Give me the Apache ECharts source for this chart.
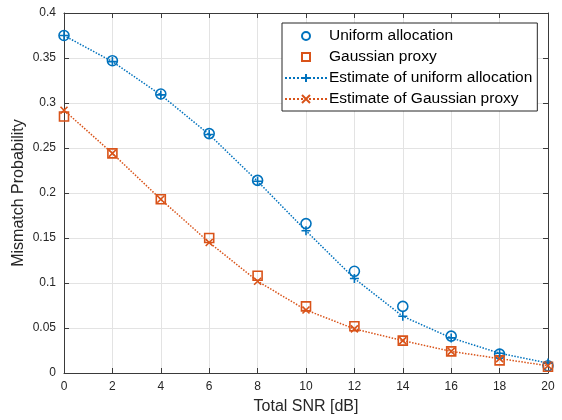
<!DOCTYPE html>
<html>
<head>
<meta charset="utf-8">
<script src="https://cdn.jsdelivr.net/npm/echarts@6/dist/echarts.min.js"></script>
<style>html,body{margin:0;padding:0;background:#fff}#c{width:562px;height:420px}</style>
</head>
<body>
<div id="c"></div>
<script>
var snr = [0, 2, 4, 6, 8, 10, 12, 14, 16, 18, 20];
var uniformAlloc = [0.375, 0.347, 0.310, 0.266, 0.214, 0.166, 0.113, 0.074, 0.041, 0.021, 0.008];
var gaussianProxy = [0.285, 0.244, 0.193, 0.150, 0.108, 0.074, 0.052, 0.036, 0.024, 0.014, 0.007];
var estUniform = [0.375, 0.346, 0.309, 0.265, 0.213, 0.158, 0.105, 0.063, 0.039, 0.022, 0.011];
var estGaussian = [0.292, 0.244, 0.193, 0.145, 0.102, 0.070, 0.049, 0.036, 0.024, 0.016, 0.008];
var seriesNames = ['Uniform allocation', 'Gaussian proxy', 'Estimate of uniform allocation', 'Estimate of Gaussian proxy'];
var xName = 'Total SNR [dB]';
var yName = 'Mismatch Probability';

function pairs(ys) { return snr.map(function (x, i) { return [x, ys[i]]; }); }

var BLUE = '#0072BD', ORANGE = '#D95319', AX = '#262626';
var FONT = '"Liberation Sans", Arial, Helvetica, sans-serif';
var PLUS = 'path://M0,-1L0,1M-1,0L1,0';
var CROSS = 'path://M-1,-1L1,1M-1,1L1,-1';

var chart = echarts.init(document.getElementById('c'), null, {renderer: 'canvas'});
var axisCommon = {
  type: 'value',
  axisLine: {show: true, onZero: false, lineStyle: {color: '#3a3a3a', width: 1}},
  axisTick: {show: true, inside: true, length: 5, lineStyle: {color: '#3a3a3a'}},
  axisLabel: {color: AX, fontSize: 12, fontFamily: FONT},
  nameTextStyle: {color: AX, fontSize: 16, fontFamily: FONT}
};
chart.setOption({
  animation: false,
  backgroundColor: '#fff',
  textStyle: {fontFamily: FONT},
  grid: {left: 64, right: 14, top: 13, bottom: 47, containLabel: false},
  legend: {
    data: seriesNames,
    orient: 'vertical',
    left: 282, top: 23,
    padding: [5, 5, 4, 2],
    itemWidth: 42, itemHeight: 10, itemGap: 5,
    backgroundColor: '#fff',
    borderColor: '#262626', borderWidth: 1,
    textStyle: {color: '#000', fontSize: 15.5, fontFamily: FONT, padding: [0, 0, 0, -3]}
  },
  xAxis: [
    Object.assign({}, axisCommon, {
      min: 0, max: 20, interval: 2, position: 'bottom',
      name: xName, nameLocation: 'middle', nameGap: 26, nameMoveOverlap: false,
      splitLine: {show: true, lineStyle: {color: '#e3e3e3', width: 1}}
    }),
    Object.assign({}, axisCommon, {
      min: 0, max: 20, interval: 2, position: 'top',
      axisLabel: {show: false}, splitLine: {show: false}
    })
  ],
  yAxis: [
    Object.assign({}, axisCommon, {
      min: 0, max: 0.4, interval: 0.05, position: 'left',
      name: yName, nameLocation: 'middle', nameGap: 37, nameMoveOverlap: false,
      splitLine: {show: true, lineStyle: {color: '#e3e3e3', width: 1}}
    }),
    Object.assign({}, axisCommon, {
      min: 0, max: 0.4, interval: 0.05, position: 'right',
      axisLabel: {show: false}, splitLine: {show: false}
    })
  ],
  series: [
    {
      name: seriesNames[0], type: 'line', data: pairs(uniformAlloc),
      symbol: 'circle', symbolSize: 10, showAllSymbol: true,
      lineStyle: {width: 0, opacity: 0}, color: BLUE,
      itemStyle: {color: 'rgba(255,255,255,0)', borderColor: BLUE, borderWidth: 1.6}
    },
    {
      name: seriesNames[1], type: 'line', data: pairs(gaussianProxy),
      symbol: 'rect', symbolSize: 9, showAllSymbol: true,
      lineStyle: {width: 0, opacity: 0}, color: ORANGE,
      itemStyle: {color: 'rgba(255,255,255,0)', borderColor: ORANGE, borderWidth: 1.6}
    },
    {
      name: seriesNames[2], type: 'line', data: pairs(estUniform),
      symbol: PLUS, symbolSize: 9, showAllSymbol: true, color: BLUE,
      lineStyle: {color: BLUE, width: 1.5, type: 'dotted'},
      itemStyle: {color: BLUE, borderColor: BLUE, borderWidth: 1.6}
    },
    {
      name: seriesNames[3], type: 'line', data: pairs(estGaussian),
      symbol: CROSS, symbolSize: 7, showAllSymbol: true, color: ORANGE,
      lineStyle: {color: ORANGE, width: 1.5, type: 'dotted'},
      itemStyle: {color: ORANGE, borderColor: ORANGE, borderWidth: 1.6}
    }
  ]
});
</script>
</body>
</html>
